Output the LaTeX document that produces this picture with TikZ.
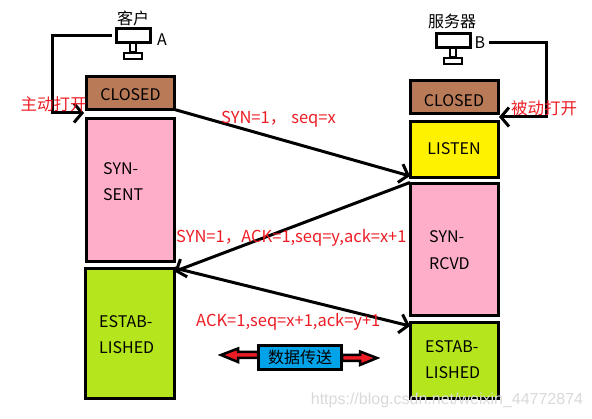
\documentclass[tikz,border=0pt]{standalone}
\usepackage{fontspec}
\setmainfont{Noto Sans CJK SC}
\newfontfamily\markfont{Liberation Sans}
\usetikzlibrary{arrows.meta, positioning}
\definecolor{closedbrown}{RGB}{185,122,87}
\definecolor{softpink}{RGB}{255,174,201}
\definecolor{listenyellow}{RGB}{255,242,0}
\definecolor{estabgreen}{RGB}{181,230,29}
\definecolor{databox}{RGB}{0,162,232}
\definecolor{softred}{RGB}{237,28,36}
\tikzset{
  statebox/.style={draw=black, line width=3pt, outer sep=0pt, inner sep=0pt},
  statetext/.style={font=\fontsize{16}{26.5}\selectfont, align=left, inner sep=0pt},
  redtext/.style={text=softred, font=\fontsize{16.5}{17}\selectfont, inner sep=0pt},
  hosttext/.style={font=\fontsize{16}{17}\selectfont, inner sep=0pt},
  screenbox/.style={draw=black, fill=white, line width=3pt, outer sep=0pt, inner sep=0pt, minimum width=34pt, minimum height=14.5pt},
  stembox/.style={draw=black, fill=white, line width=2pt, outer sep=0pt, inner sep=0pt, minimum width=6pt, minimum height=9pt},
  basebox/.style={draw=black, fill=white, line width=2pt, outer sep=0pt, inner sep=0pt, minimum width=18pt, minimum height=6.5pt},
  link/.style={draw=black, line width=3pt, -{Straight Barb[length=8pt,width=19pt,line width=3pt]}},
  bigarrow/.style={draw=black, fill=softred, line width=2.5pt, line join=miter},
}
\begin{document}
\begin{tikzpicture}[x=1pt,y=-1pt]
  \useasboundingbox (0,0) rectangle (592,419);
  % Left column
  \node[statebox, fill=closedbrown, minimum width=88pt, minimum height=33pt] (closedA) at (130.5,93) {};
  \node[statebox, fill=softpink, minimum width=88pt, minimum height=143pt] (synsent) at (130.5,190.5) {};
  \node[statebox, fill=estabgreen, minimum width=89pt, minimum height=130pt] (estabA) at (130,334) {};
  % Right column
  \node[statebox, fill=closedbrown, minimum width=88pt, minimum height=33pt] (closedB) at (454,97.5) {};
  \node[statebox, fill=listenyellow, minimum width=88pt, minimum height=56pt] (listen) at (454,150) {};
  \node[statebox, fill=softpink, minimum width=88pt, minimum height=132pt] (synrcvd) at (454,250) {};
  \node[statebox, fill=estabgreen, minimum width=88pt, minimum height=76pt] (estabB) at (454,361) {};
  % State names
  \node[statetext] (closedAtext) at (130.5,95) {CLOSED};
  \node[statetext, anchor=west] (synsenttext) at (103,181.5) {SYN-\\SENT};
  \node[statetext, anchor=west] (estabAtext) at (99,334.5) {ESTAB-\\LISHED};
  \node[statetext] (closedBtext) at (454,100.5) {CLOSED};
  \node[statetext] (listentext) at (454,148.5) {LISTEN};
  \node[statetext, anchor=west] (synrcvdtext) at (429,250) {SYN-\\RCVD};
  \node[statetext, anchor=west] (estabBtext) at (425,359.5) {ESTAB-\\LISHED};
  % Hosts
  \node[screenbox] (screenA) at (133.5,35.5) {};
  \node[stembox] (stemA) at (133,48) {};
  \node[basebox] (baseA) at (133,56) {};
  \node[hosttext] (hostA) at (133,18) {客户};
  \node[hosttext] (letterA) at (162,39.5) {A};
  \node[screenbox] (screenB) at (453.5,40.5) {};
  \node[stembox] (stemB) at (453,53) {};
  \node[basebox] (baseB) at (453,61) {};
  \node[hosttext] (hostB) at (452,21.5) {服务器};
  \node[hosttext] (letterB) at (480,42.5) {B};
  % Open connections
  \coordinate (bendA) at (52,35.5);
  \coordinate (downA) at (52,113);
  \coordinate (tipA) at (84,113);
  \coordinate (startB) at (489,43);
  \coordinate (bendB) at (546,43);
  \coordinate (downB) at (546,117);
  \coordinate (tipB) at (499,117);
  \draw[link, shorten <=5pt, line join=miter] (screenA.west) -- (bendA) -- (downA) -- (tipA);
  \draw[link, line join=miter] (startB) -- (bendB) -- (downB) -- (tipB);
  % Handshake
  \draw[link] (closedA.south east) -- ([yshift=2pt]listen.south west);
  \draw[link] ([yshift=1.5pt]synrcvd.north west) -- ([yshift=-2.5pt]estabA.north east);
  \draw[link] ([yshift=1pt]estabA.north east) -- ([yshift=-3pt]estabB.north west);
  % Labels
  \node[redtext] (openA) at (53.5,104) {主动打开};
  \node[redtext] (openB) at (544,108) {被动打开};
  \node[redtext, anchor=west] (synlabel) at (221,119) {SYN=1，\hspace{5pt}seq=x};
  \node[redtext, anchor=west] (synacklabel) at (176,238) {SYN=1，ACK=1,seq=y,ack=x+1};
  \node[redtext, anchor=west] (acklabel) at (196,322) {ACK=1,seq=x+1,ack=y+1};
  % Data transfer
  \draw[bigarrow] (221,355) -- (238,348.5) -- (238,352) -- (258,352) -- (258,358) -- (238,358) -- (238,362) -- cycle;
  \draw[bigarrow] (377,358) -- (360,351.5) -- (360,355) -- (342,355) -- (342,361) -- (360,361) -- (360,365) -- cycle;
  \node[draw=black, fill=databox, line width=3pt, minimum width=83pt, minimum height=24pt, inner sep=0pt, outer sep=0pt, font=\fontsize{16}{17}\selectfont] (datanode) at (300,357.5) {数据传送};
  % Watermark
  \node[text=gray!30, font=\markfont\fontsize{16}{17}\selectfont, inner sep=0pt] (watermark) at (447,400) {https://blog.csdn.net/weixin\_44772874};
\end{tikzpicture}
\end{document}
